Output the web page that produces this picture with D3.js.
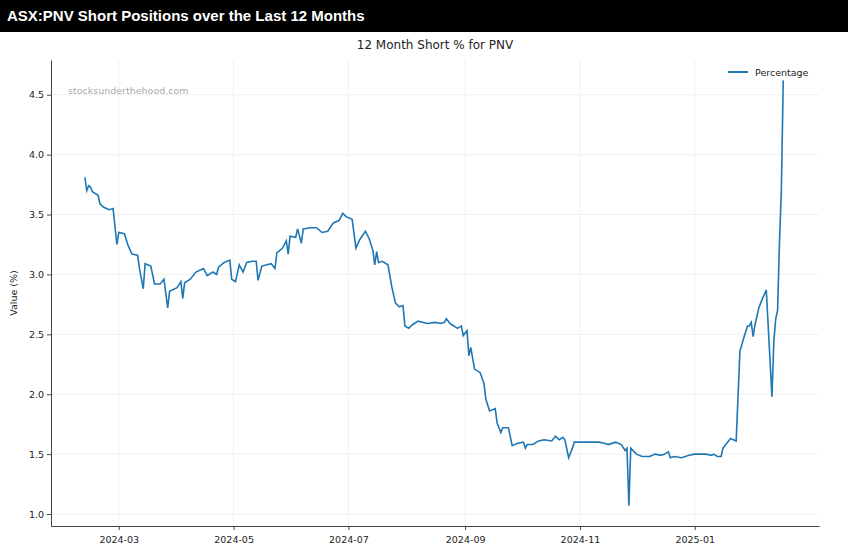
<!DOCTYPE html>
<html>
<head>
<meta charset="utf-8">
<script src="https://cdn.jsdelivr.net/npm/d3@7"></script>
<style>
  body { margin: 0; background: #fff; }
  .bar { background: #000; color: #fff; height: 32px; font: bold 15px "Liberation Sans", Arial, sans-serif; line-height: 32px; padding-left: 7px; }
  text { font-family: "DejaVu Sans", sans-serif; }
</style>
</head>
<body>
<div class="bar">ASX:PNV Short Positions over the Last 12 Months</div>
<div id="chart"></div>
<script>
// days after 2024-02-01, and short % on that day
var dayOffsets = [11,12,13,14,15,18,19,21,24,26,28,29,32,34,36,39,40,42,43,46,48,51,53,55,56,60,62,63,64,67,70,74,76,79,81,82,85,88,89,91,93,95,97,100,102,103,105,110,112,113,116,118,119,120,123,124,126,127,131,134,137,140,143,146,148,150,153,155,157,160,162,164,165,166,167,169,172,174,176,178,180,181,183,185,188,193,197,200,202,203,205,209,211,212,214,215,216,218,221,223,224,226,229,230,232,233,236,238,241,244,245,246,249,252,255,259,261,263,265,266,268,270,271,274,277,279,284,287,289,293,296,298,299,300,301,304,307,311,314,317,319,321,322,324,328,332,335,338,341,344,345,347,349,350,352,354,357,359,361,363,364,365,366,367,369,371,373,376,377,378,379,380,381,382];
var shortPct = [3.81,3.70,3.74,3.73,3.69,3.66,3.59,3.56,3.54,3.55,3.25,3.35,3.34,3.24,3.17,3.16,3.05,2.88,3.09,3.07,2.92,2.92,2.96,2.72,2.86,2.89,2.94,2.80,2.93,2.96,3.02,3.05,2.99,3.02,3.00,3.06,3.10,3.12,2.96,2.94,3.08,3.02,3.10,3.11,3.11,2.95,3.07,3.09,3.05,3.18,3.22,3.28,3.17,3.32,3.31,3.38,3.26,3.38,3.39,3.39,3.35,3.36,3.43,3.45,3.51,3.48,3.46,3.22,3.29,3.36,3.30,3.20,3.08,3.19,3.10,3.11,3.08,2.90,2.76,2.73,2.74,2.57,2.55,2.58,2.61,2.59,2.60,2.59,2.60,2.63,2.59,2.55,2.57,2.49,2.53,2.32,2.39,2.21,2.18,2.09,1.96,1.86,1.88,1.76,1.68,1.72,1.72,1.57,1.59,1.60,1.55,1.58,1.58,1.61,1.62,1.61,1.65,1.62,1.64,1.62,1.47,1.55,1.60,1.60,1.60,1.60,1.60,1.59,1.58,1.60,1.58,1.53,1.55,1.07,1.55,1.50,1.48,1.48,1.50,1.49,1.50,1.52,1.47,1.48,1.47,1.49,1.50,1.50,1.50,1.49,1.50,1.48,1.48,1.55,1.59,1.63,1.61,2.36,2.47,2.57,2.57,2.60,2.48,2.58,2.72,2.80,2.87,1.98,2.44,2.63,2.70,3.27,3.70,4.62];
var yTicks = [1.0,1.5,2.0,2.5,3.0,3.5,4.0,4.5];

var W = 848, H = 525;
var margin = {left: 51, right: 29, top: 28, bottom: 31}; // relative to svg
var start = Date.UTC(2024, 1, 1);
var data = dayOffsets.map(function(d, i){
  return {date: d3.utcDay.offset(new Date(start), d), value: shortPct[i]};
});

var svg = d3.select("#chart").append("svg").attr("width", W).attr("height", H);

var x = d3.scaleUtc()
    .domain([d3.utcDay.offset(new Date(start), -7), d3.utcDay.offset(new Date(start), 401)])
    .range([margin.left, W - margin.right]);
var y = d3.scaleLinear().domain([0.9, 4.79]).range([H - margin.bottom, margin.top]);

var xTicks = d3.utcMonth.every(2).range(new Date(start), d3.utcDay.offset(new Date(start), 380));

// grid
svg.append("g").selectAll("line").data(xTicks).join("line")
    .attr("x1", x).attr("x2", x).attr("y1", margin.top).attr("y2", H - margin.bottom)
    .attr("stroke", "#f0f0f0");
svg.append("g").selectAll("line").data(yTicks).join("line")
    .attr("x1", margin.left).attr("x2", W - margin.right).attr("y1", y).attr("y2", y)
    .attr("stroke", "#f0f0f0");

var xAxis = svg.append("g").attr("transform", "translate(0," + (H - margin.bottom) + ")")
    .call(d3.axisBottom(x).tickValues(xTicks).tickFormat(d3.utcFormat("%Y-%m")).tickSize(4).tickSizeOuter(0));
var yAxis = svg.append("g").attr("transform", "translate(" + margin.left + ",0)")
    .call(d3.axisLeft(y).tickValues(yTicks).tickFormat(d3.format(".1f")).tickSize(4).tickSizeOuter(0));
[xAxis, yAxis].forEach(function(a){
  a.selectAll("text").attr("font-size", 9.5).attr("fill", "#222").attr("font-family", "DejaVu Sans, sans-serif");
  a.selectAll("path,line").attr("stroke", "#444");
});
xAxis.selectAll("text").attr("dy", "1.1em");

svg.append("path").datum(data)
    .attr("fill", "none").attr("stroke", "#1f77b4").attr("stroke-width", 1.6)
    .attr("d", d3.line().x(function(d){ return x(d.date); }).y(function(d){ return y(d.value); }));

svg.append("text").attr("x", 435).attr("y", 17).attr("text-anchor", "middle")
    .attr("font-size", 12).attr("fill", "#222").text("12 Month Short % for PNV");
svg.append("text").attr("transform", "translate(17," + ((margin.top + H - margin.bottom) / 2) + ") rotate(-90)")
    .attr("text-anchor", "middle").attr("font-size", 9.5).attr("fill", "#222").text("Value (%)");
svg.append("text").attr("x", 68).attr("y", 62).attr("font-size", 9.5).attr("fill", "#aaa")
    .text("stocksunderthehood.com");

// legend
svg.append("line").attr("x1", 728).attr("x2", 748).attr("y1", 40).attr("y2", 40)
    .attr("stroke", "#1f77b4").attr("stroke-width", 2);
svg.append("text").attr("x", 755).attr("y", 43.5).attr("font-size", 9.5).attr("fill", "#222").text("Percentage");
</script>
</body>
</html>
